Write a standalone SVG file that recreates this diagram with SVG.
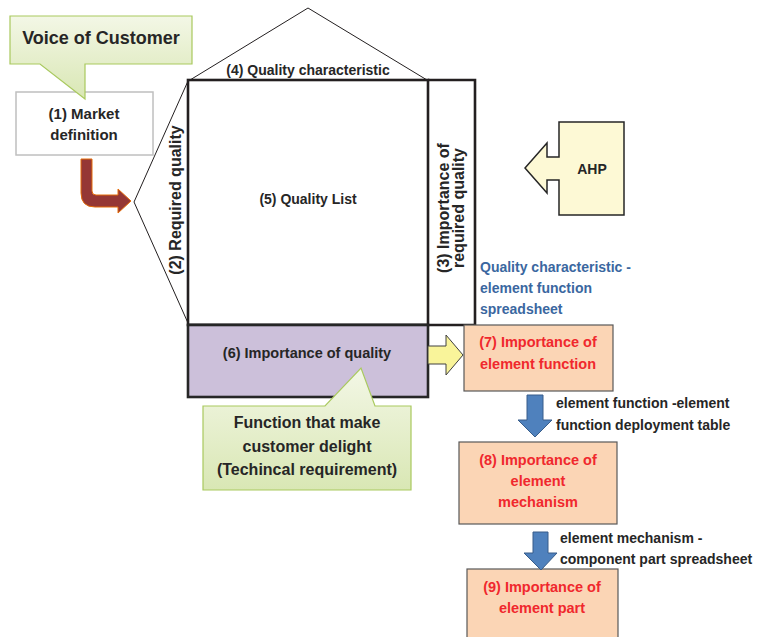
<svg xmlns="http://www.w3.org/2000/svg" width="759" height="637" viewBox="0 0 759 637">
  <defs>
    <linearGradient id="greenFill" x1="0" y1="0" x2="0" y2="1">
      <stop offset="0" stop-color="#F3F7E6"/>
      <stop offset="1" stop-color="#D9E7B4"/>
    </linearGradient>
    <style>
      text { font-family: "Liberation Sans", Arial, sans-serif; font-weight: bold; fill: #262626; }
      .c { text-anchor: middle; }
      .red { fill: #F0282D; }
      .blue { fill: #3A67A0; }
      .callout { fill: url(#greenFill); stroke: #A9C95E; stroke-width: 1.2; }
      .thick { fill: none; stroke: #231F20; stroke-width: 2.6; }
      .thin { fill: none; stroke: #231F20; stroke-width: 1; }
      .peach { fill: #FBD5B5; stroke: #595959; stroke-width: 1.2; }
      .bluearrow { fill: #4F81BD; stroke: #385D8A; stroke-width: 1; }
    </style>
  </defs>

  <!-- house of quality frame -->
  <g id="house">
    <polyline class="thin" points="190,80 308,8 427,80"/>
    <polyline class="thin" points="188,81 134,202 188,323"/>
    <rect x="188" y="80" width="240" height="245" class="thick" fill="#FFFFFF"/>
    <polyline class="thick" points="428,80 475,80 475,325 188,325"/>
  </g>

  <g id="roof-label">
    <text x="308" y="75" class="c" font-size="14">(4) Quality characteristic</text>
  </g>

  <g id="quality-list">
    <text x="308" y="204" class="c" font-size="14">(5) Quality List</text>
  </g>

  <g id="required-quality">
    <text transform="translate(181,200) rotate(-90)" class="c" font-size="16">(2) Required quality</text>
  </g>

  <g id="importance-required">
    <text transform="translate(449,208) rotate(-90)" class="c" font-size="16">(3) Importance of</text>
    <text transform="translate(464,208) rotate(-90)" class="c" font-size="16">required quality</text>
  </g>

  <g id="importance-quality">
    <rect x="188" y="325" width="240" height="72" fill="#CCC0DA" stroke="#262626" stroke-width="2.6"/>
    <text x="307" y="358" class="c" font-size="14.5">(6) Importance of quality</text>
  </g>

  <!-- market definition and voice of customer -->
  <g id="market-definition">
    <rect x="16" y="92" width="137" height="63" fill="#FFFFFF" stroke="#BFBFBF" stroke-width="1.5"/>
    <text x="84" y="119" class="c" font-size="15">(1) Market</text>
    <text x="84" y="140" class="c" font-size="15">definition</text>
  </g>

  <g id="voice-of-customer">
    <path class="callout" d="M10,16 L192,16 L192,64 L85,64 L85,99 L40,64 L10,64 Z"/>
    <text x="101" y="44" class="c" font-size="18">Voice of Customer</text>
  </g>

  <g id="ahp">
    <path d="M559,122 L624,122 L624,215 L559,215 L559,180 L547,180 L547,193 L525,168 L547,143 L547,157 L559,157 Z" fill="#FDF9D5" stroke="#262626" stroke-width="1.5"/>
    <text x="592" y="174" class="c" font-size="14">AHP</text>
  </g>

  <g id="technical-requirement">
    <path class="callout" d="M203,406 L325,406 L361,368 L375,406 L411,406 L411,490 L203,490 Z"/>
    <text x="307" y="428" class="c" font-size="16">Function that make</text>
    <text x="307" y="452" class="c" font-size="16">customer delight</text>
    <text x="307" y="475" class="c" font-size="16">(Techincal requirement)</text>
  </g>

  <g id="spreadsheet-label">
    <text x="480" y="272" font-size="14" class="blue">Quality characteristic -</text>
    <text x="480" y="293" font-size="14" class="blue">element function</text>
    <text x="480" y="314" font-size="14" class="blue">spreadsheet</text>
  </g>

  <g id="element-function">
    <rect x="464" y="325" width="149" height="66" class="peach"/>
    <text x="538" y="347" class="c red" font-size="14.5">(7) Importance of</text>
    <text x="538" y="369" class="c red" font-size="14.5">element function</text>
  </g>

  <g id="element-mechanism">
    <rect x="459" y="442" width="158" height="82" class="peach"/>
    <text x="538" y="465" class="c red" font-size="14.5">(8) Importance of</text>
    <text x="538" y="486" class="c red" font-size="14.5">element</text>
    <text x="538" y="507" class="c red" font-size="14.5">mechanism</text>
  </g>

  <g id="element-part">
    <rect x="467" y="569" width="151" height="80" class="peach"/>
    <text x="542" y="592" class="c red" font-size="14.5">(9) Importance of</text>
    <text x="542" y="613" class="c red" font-size="14.5">element  part</text>
  </g>

  <g id="deployment-labels">
    <text x="556" y="408" font-size="14">element function -element</text>
    <text x="556" y="430" font-size="14">function deployment table</text>
    <text x="560" y="543" font-size="14">element mechanism -</text>
    <text x="560" y="564" font-size="14">component part spreadsheet</text>
  </g>

  <!-- connectors -->
  <g id="connectors">
    <path d="M81,159 L92,159 L92,191 Q92,195 96,195 L118,195 L118,189 L131,201 L118,213 L118,207 L95,207 Q81,207 81,193 Z" fill="#953735" stroke="#E46C0A" stroke-width="1"/>
    <path d="M428,346 L446,346 L446,335 L463,355 L446,375 L446,364 L428,364 Z" fill="#F9F49A" stroke="#404040" stroke-width="1"/>
    <path class="bluearrow" d="M527,395 L543,395 L543,420 L552,420 L535,437 L518,420 L527,420 Z"/>
    <path class="bluearrow" d="M533,532 L548,532 L548,553 L557,553 L541,570 L524,553 L533,553 Z"/>
  </g>
</svg>
